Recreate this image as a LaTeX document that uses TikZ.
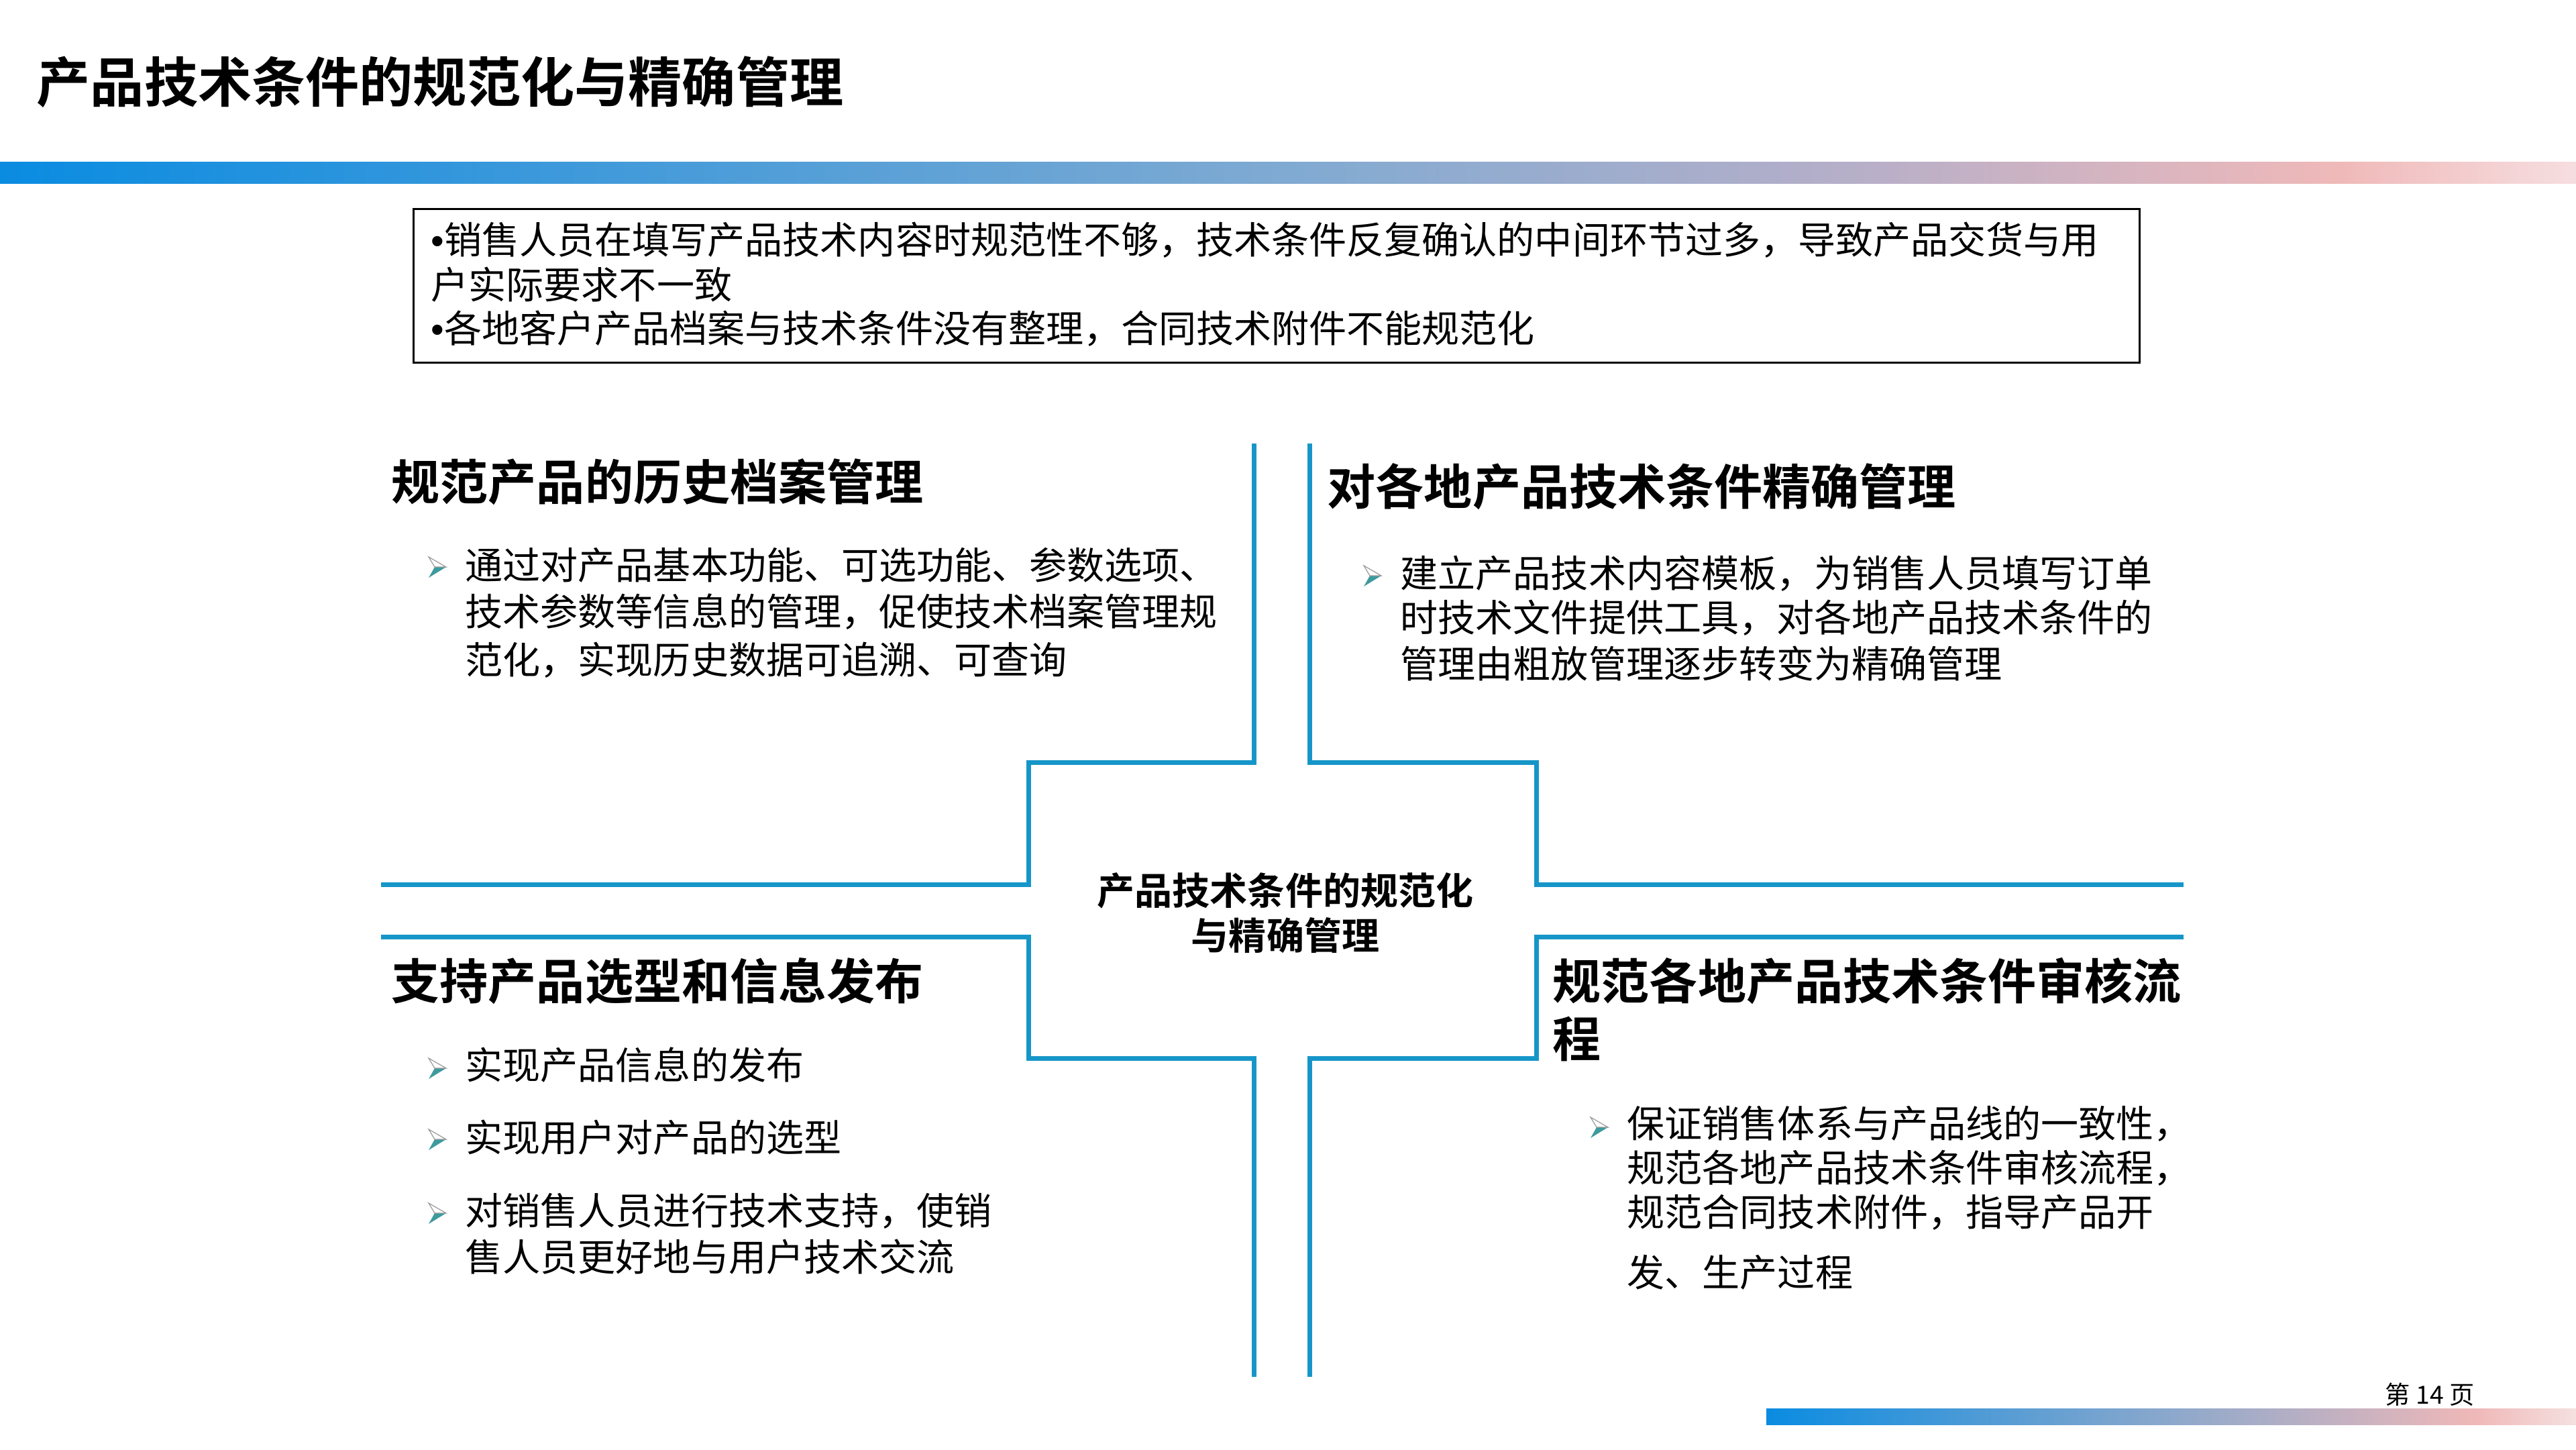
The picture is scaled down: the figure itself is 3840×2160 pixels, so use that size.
\documentclass[tikz,border=0pt]{standalone}
\usepackage{fontspec}
\setmainfont{Noto Sans CJK SC}[BoldFont={Noto Sans CJK SC Bold}]
\newfontfamily\latinf{Liberation Sans}
\definecolor{lineblue}{RGB}{22,150,200}
\definecolor{arrowteal}{RGB}{61,154,158}
\definecolor{gA}{RGB}{10,140,225}
\definecolor{gB}{RGB}{128,170,210}
\definecolor{gC}{RGB}{185,175,200}
\definecolor{gD}{RGB}{240,185,185}
\definecolor{gE}{RGB}{246,222,224}
\definecolor{fB}{RGB}{140,168,204}
\definecolor{fD}{RGB}{240,184,184}
\definecolor{fE}{RGB}{245,224,224}
\tikzset{
  body/.style={inner sep=0, anchor=west, font=\fontsize{15.94pt}{19pt}\selectfont},
  head/.style={inner sep=0, anchor=west, font=\fontsize{20.5pt}{24pt}\selectfont\bfseries},
  ctr/.style={inner sep=0, anchor=center, font=\fontsize{15.94pt}{19pt}\selectfont\bfseries},
  cross/.style={draw=lineblue, line width=0.07cm, line join=miter},
  barrow/.pic={
    \fill[arrowteal] (0,0) -- (17,0) -- (-9,16) -- cycle;
    \draw[draw=black!40, line width=0.012cm, fill=white] (0,0) -- (-9,-15) -- (17,0) -- cycle;
  }
}
\begin{document}
\begin{tikzpicture}[x=0.01cm,y=-0.01cm]
\useasboundingbox (0,0) rectangle (3840,2160);
\fill[white] (0,0) rectangle (3840,2160);

% title
\node[inner sep=0, anchor=west, font=\fontsize{22.8pt}{26pt}\selectfont\bfseries] (title) at (54,122) {产品技术条件的规范化与精确管理};

% top gradient bar
\shade[left color=gA, right color=gB] (0,241) rectangle (1921,273);
\shade[left color=gB, right color=gC] (1920,241) rectangle (2801,273);
\shade[left color=gC, right color=gD] (2800,241) rectangle (3491,273);
\shade[left color=gD, right color=gE] (3490,241) rectangle (3840,273);

% problem box
\draw[black, line width=0.03cm] (616,311) rectangle (3189,540);
\node[body] (p1) at (642,358) {{\latinf •}销售人员在填写产品技术内容时规范性不够，技术条件反复确认的中间环节过多，导致产品交货与用};
\node[body] (p2) at (642,424) {户实际要求不一致};
\node[body] (p3) at (642,490) {{\latinf •}各地客户产品档案与技术条件没有整理，合同技术附件不能规范化};

% cross outline
\draw[cross] (1869,661) -- (1869,1136) -- (1533,1136) -- (1533,1318) -- (568,1318);
\draw[cross] (1952,661) -- (1952,1136) -- (2290,1136) -- (2290,1318) -- (3255,1318);
\draw[cross] (568,1396) -- (1533,1396) -- (1533,1577) -- (1869,1577) -- (1869,2052);
\draw[cross] (3255,1396) -- (2290,1396) -- (2290,1577) -- (1952,1577) -- (1952,2052);

% center
\node[ctr] (c1) at (1916,1327) {产品技术条件的规范化};
\node[ctr] (c2) at (1916,1394) {与精确管理};

% top-left quadrant
\node[head] (h1) at (583,718) {规范产品的历史档案管理};
\pic at (648,845) {barrow};
\node[body] (a1) at (693,842) {通过对产品基本功能、可选功能、参数选项、};
\node[body] (a2) at (693,912) {技术参数等信息的管理，促使技术档案管理规};
\node[body] (a3) at (693,984) {范化，实现历史数据可追溯、可查询};

% top-right quadrant
\node[head] (h2) at (1978,725) {对各地产品技术条件精确管理};
\pic at (2042,858) {barrow};
\node[body] (b1) at (2087,855) {建立产品技术内容模板，为销售人员填写订单};
\node[body] (b2) at (2087,921) {时技术文件提供工具，对各地产品技术条件的};
\node[body] (b3) at (2087,989) {管理由粗放管理逐步转变为精确管理};

% bottom-left quadrant
\node[head] (h3) at (583,1462) {支持产品选型和信息发布};
\pic at (648,1592) {barrow};
\node[body] (d1) at (693,1587) {实现产品信息的发布};
\pic at (648,1698) {barrow};
\node[body] (d2) at (693,1695) {实现用户对产品的选型};
\pic at (648,1808) {barrow};
\node[body] (d3) at (693,1805) {对销售人员进行技术支持，使销};
\node[body] (d4) at (693,1873) {售人员更好地与用户技术交流};

% bottom-right quadrant
\node[head] (h4a) at (2314,1462) {规范各地产品技术条件审核流};
\node[head] (h4b) at (2314,1548) {程};
\pic at (2380,1680) {barrow};
\node[body] (e1) at (2425,1675) {保证销售体系与产品线的一致性，};
\node[body] (e2) at (2425,1741) {规范各地产品技术条件审核流程，};
\node[body] (e3) at (2425,1807) {规范合同技术附件，指导产品开};
\node[body] (e4) at (2425,1896) {发、生产过程};

% footer
\node[inner sep=0, anchor=center, font=\fontsize{10.6pt}{12pt}\selectfont] (pg) at (3622,2078) {第 14 页};
\shade[left color=gA, right color=fB] (2633,2099) rectangle (3237,2123);
\shade[left color=fB, right color=fD] (3236,2099) rectangle (3691,2123);
\shade[left color=fD, right color=fE] (3690,2099) rectangle (3840,2123);
\end{tikzpicture}
\end{document}
